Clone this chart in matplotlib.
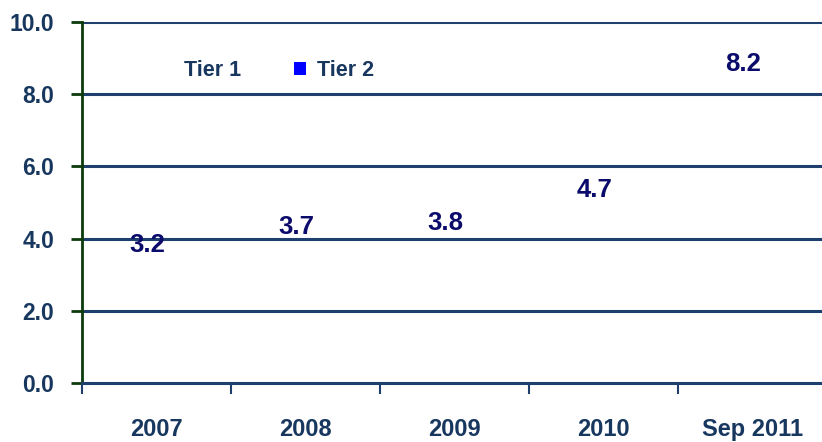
import matplotlib
matplotlib.use("Agg")
import matplotlib.pyplot as plt
from matplotlib.patches import Patch
from matplotlib.ticker import FixedLocator

# totals per period (Tier 1 + Tier 2)
periods = ["2007", "2008", "2009", "2010", "Sep 2011"]
totals = [3.2, 3.7, 3.8, 4.7, 8.2]
series_names = ["Tier 1", "Tier 2"]
series_colors = ["#FFFFFF", "#0000FF"]
y_ticks = [0, 2, 4, 6, 8, 10]

plt.rcParams["font.family"] = ["Liberation Sans", "DejaVu Sans"]
plt.rcParams["font.weight"] = "bold"

tick_color = "#17375E"
grid_color = "#1F3F6F"
label_color = "#0B0B6B"

fig = plt.figure(figsize=(8.22, 4.42), dpi=100)
ax = fig.add_axes([0.0998, 0.1335, 0.906, 0.8165])

x = list(range(len(periods)))
ax.set_xlim(-0.5, len(periods) - 0.5)
ax.set_ylim(0, 10)

# horizontal gridlines
for v in y_ticks[1:]:
    ax.axhline(v, color=grid_color, lw=2.2, zorder=1)

# value labels above each total
for xi, v in zip(x, totals):
    ax.annotate(f"{v:.1f}", (xi, v), xytext=(-6.5, 16.5), textcoords="offset points",
                ha="center", va="center", fontsize=18.5, fontweight="bold",
                color=label_color, zorder=3)

ax.set_yticks(y_ticks)
ax.set_yticklabels([f"{v:.1f}" for v in y_ticks])
ax.set_xticks(x)
ax.set_xticklabels(periods)
ax.xaxis.set_minor_locator(FixedLocator([i - 0.5 for i in range(len(periods) + 1)]))

ax.tick_params(axis="y", direction="out", length=8, width=2, color="#0B3B0B",
               labelsize=16.5, labelcolor=tick_color, pad=12)
ax.tick_params(axis="x", which="major", length=0, labelsize=17,
               labelcolor=tick_color, pad=25)
ax.tick_params(axis="x", which="minor", direction="out", length=8, width=1.5,
               color=grid_color)

for s in ["top", "right"]:
    ax.spines[s].set_visible(False)
ax.spines["left"].set_color("#0B3B0B")
ax.spines["left"].set_linewidth(2)
ax.spines["bottom"].set_color(grid_color)
ax.spines["bottom"].set_linewidth(2.2)

handles = [Patch(facecolor=c, edgecolor="none", label=n)
           for n, c in zip(series_names, series_colors)]
ax.legend(handles=handles, ncol=2, frameon=False, loc="upper left",
          bbox_to_anchor=(0.081, 0.948), fontsize=15.5, labelcolor=tick_color,
          handlelength=0.55, handleheight=0.55, handletextpad=0.5,
          columnspacing=2.45)

fig.savefig("out.png", dpi=100)
